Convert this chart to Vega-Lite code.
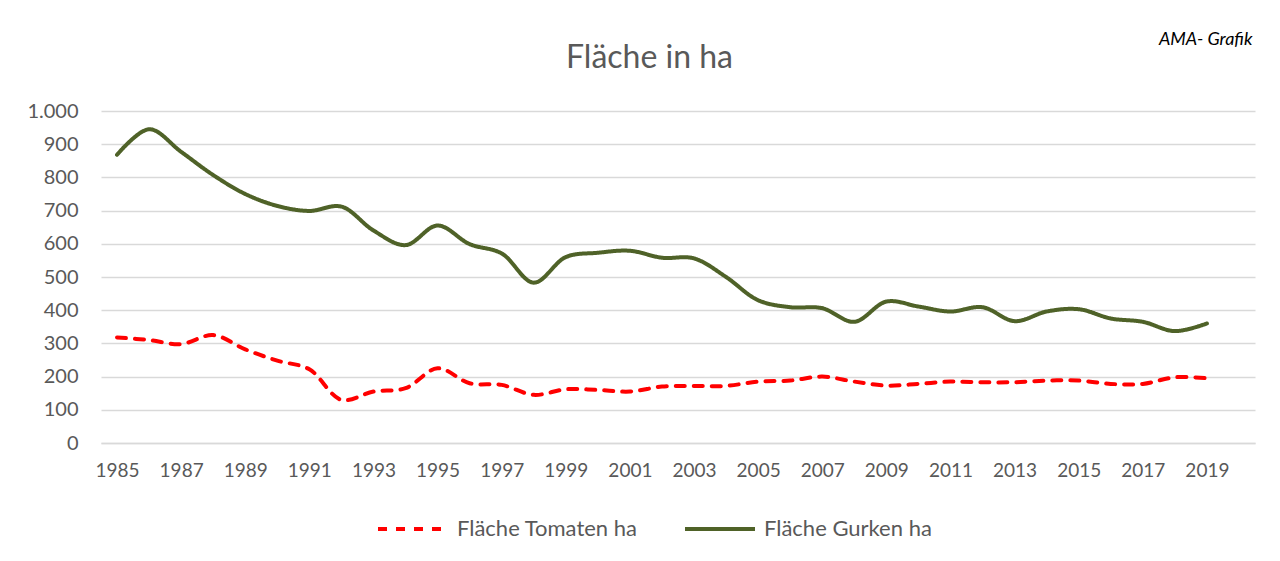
{
  "$schema": "https://vega.github.io/schema/vega-lite/v6.json",
  "width": 1154,
  "height": 332,
  "autosize": {"type": "none"},
  "padding": {"left": 101, "top": 111, "right": 25, "bottom": 118},
  "background": "white",
  "config": {
    "locale": {"number": {"decimal": ",", "thousands": ".", "grouping": [3], "currency": ["", " €"]}},
    "view": {"stroke": null},
    "font": "Lato"
  },
  "data": {
    "values": [
      {"Jahr": 1985, "Serie": "Fläche Tomaten  ha", "Wert": 318},
      {"Jahr": 1986, "Serie": "Fläche Tomaten  ha", "Wert": 310},
      {"Jahr": 1987, "Serie": "Fläche Tomaten  ha", "Wert": 298},
      {"Jahr": 1988, "Serie": "Fläche Tomaten  ha", "Wert": 325},
      {"Jahr": 1989, "Serie": "Fläche Tomaten  ha", "Wert": 282},
      {"Jahr": 1990, "Serie": "Fläche Tomaten  ha", "Wert": 248},
      {"Jahr": 1991, "Serie": "Fläche Tomaten  ha", "Wert": 222},
      {"Jahr": 1992, "Serie": "Fläche Tomaten  ha", "Wert": 130},
      {"Jahr": 1993, "Serie": "Fläche Tomaten  ha", "Wert": 155},
      {"Jahr": 1994, "Serie": "Fläche Tomaten  ha", "Wert": 165},
      {"Jahr": 1995, "Serie": "Fläche Tomaten  ha", "Wert": 225},
      {"Jahr": 1996, "Serie": "Fläche Tomaten  ha", "Wert": 180},
      {"Jahr": 1997, "Serie": "Fläche Tomaten  ha", "Wert": 175},
      {"Jahr": 1998, "Serie": "Fläche Tomaten  ha", "Wert": 145},
      {"Jahr": 1999, "Serie": "Fläche Tomaten  ha", "Wert": 162},
      {"Jahr": 2000, "Serie": "Fläche Tomaten  ha", "Wert": 160},
      {"Jahr": 2001, "Serie": "Fläche Tomaten  ha", "Wert": 155},
      {"Jahr": 2002, "Serie": "Fläche Tomaten  ha", "Wert": 170},
      {"Jahr": 2003, "Serie": "Fläche Tomaten  ha", "Wert": 172},
      {"Jahr": 2004, "Serie": "Fläche Tomaten  ha", "Wert": 172},
      {"Jahr": 2005, "Serie": "Fläche Tomaten  ha", "Wert": 185},
      {"Jahr": 2006, "Serie": "Fläche Tomaten  ha", "Wert": 188},
      {"Jahr": 2007, "Serie": "Fläche Tomaten  ha", "Wert": 200},
      {"Jahr": 2008, "Serie": "Fläche Tomaten  ha", "Wert": 185},
      {"Jahr": 2009, "Serie": "Fläche Tomaten  ha", "Wert": 173},
      {"Jahr": 2010, "Serie": "Fläche Tomaten  ha", "Wert": 178},
      {"Jahr": 2011, "Serie": "Fläche Tomaten  ha", "Wert": 185},
      {"Jahr": 2012, "Serie": "Fläche Tomaten  ha", "Wert": 183},
      {"Jahr": 2013, "Serie": "Fläche Tomaten  ha", "Wert": 183},
      {"Jahr": 2014, "Serie": "Fläche Tomaten  ha", "Wert": 188},
      {"Jahr": 2015, "Serie": "Fläche Tomaten  ha", "Wert": 188},
      {"Jahr": 2016, "Serie": "Fläche Tomaten  ha", "Wert": 178},
      {"Jahr": 2017, "Serie": "Fläche Tomaten  ha", "Wert": 178},
      {"Jahr": 2018, "Serie": "Fläche Tomaten  ha", "Wert": 198},
      {"Jahr": 2019, "Serie": "Fläche Tomaten  ha", "Wert": 195},
      {"Jahr": 1985, "Serie": "Fläche Gurken ha", "Wert": 868},
      {"Jahr": 1986, "Serie": "Fläche Gurken ha", "Wert": 945},
      {"Jahr": 1987, "Serie": "Fläche Gurken ha", "Wert": 877},
      {"Jahr": 1988, "Serie": "Fläche Gurken ha", "Wert": 807},
      {"Jahr": 1989, "Serie": "Fläche Gurken ha", "Wert": 750},
      {"Jahr": 1990, "Serie": "Fläche Gurken ha", "Wert": 714},
      {"Jahr": 1991, "Serie": "Fläche Gurken ha", "Wert": 699},
      {"Jahr": 1992, "Serie": "Fläche Gurken ha", "Wert": 712},
      {"Jahr": 1993, "Serie": "Fläche Gurken ha", "Wert": 640},
      {"Jahr": 1994, "Serie": "Fläche Gurken ha", "Wert": 596},
      {"Jahr": 1995, "Serie": "Fläche Gurken ha", "Wert": 655},
      {"Jahr": 1996, "Serie": "Fläche Gurken ha", "Wert": 599},
      {"Jahr": 1997, "Serie": "Fläche Gurken ha", "Wert": 571},
      {"Jahr": 1998, "Serie": "Fläche Gurken ha", "Wert": 483},
      {"Jahr": 1999, "Serie": "Fläche Gurken ha", "Wert": 560},
      {"Jahr": 2000, "Serie": "Fläche Gurken ha", "Wert": 573},
      {"Jahr": 2001, "Serie": "Fläche Gurken ha", "Wert": 579},
      {"Jahr": 2002, "Serie": "Fläche Gurken ha", "Wert": 558},
      {"Jahr": 2003, "Serie": "Fläche Gurken ha", "Wert": 556},
      {"Jahr": 2004, "Serie": "Fläche Gurken ha", "Wert": 500},
      {"Jahr": 2005, "Serie": "Fläche Gurken ha", "Wert": 430},
      {"Jahr": 2006, "Serie": "Fläche Gurken ha", "Wert": 409},
      {"Jahr": 2007, "Serie": "Fläche Gurken ha", "Wert": 406},
      {"Jahr": 2008, "Serie": "Fläche Gurken ha", "Wert": 365},
      {"Jahr": 2009, "Serie": "Fläche Gurken ha", "Wert": 426},
      {"Jahr": 2010, "Serie": "Fläche Gurken ha", "Wert": 411},
      {"Jahr": 2011, "Serie": "Fläche Gurken ha", "Wert": 396},
      {"Jahr": 2012, "Serie": "Fläche Gurken ha", "Wert": 409},
      {"Jahr": 2013, "Serie": "Fläche Gurken ha", "Wert": 367},
      {"Jahr": 2014, "Serie": "Fläche Gurken ha", "Wert": 396},
      {"Jahr": 2015, "Serie": "Fläche Gurken ha", "Wert": 403},
      {"Jahr": 2016, "Serie": "Fläche Gurken ha", "Wert": 375},
      {"Jahr": 2017, "Serie": "Fläche Gurken ha", "Wert": 365},
      {"Jahr": 2018, "Serie": "Fläche Gurken ha", "Wert": 337},
      {"Jahr": 2019, "Serie": "Fläche Gurken ha", "Wert": 360}
    ]
  },
  "mark": {"type": "line", "strokeWidth": 4, "interpolate": "catmull-rom", "strokeCap": "round", "strokeJoin": "round"},
  "encoding": {
    "x": {
      "field": "Jahr",
      "type": "quantitative",
      "scale": {"domain": [1984.5, 2020.5], "nice": false, "zero": false},
      "axis": {
        "values": [1985, 1987, 1989, 1991, 1993, 1995, 1997, 1999, 2001, 2003, 2005, 2007, 2009, 2011, 2013, 2015, 2017, 2019],
        "format": "d",
        "grid": false,
        "ticks": false,
        "domain": true,
        "domainColor": "#D9D9D9",
        "domainWidth": 1.5,
        "labelFont": "Lato",
        "labelFontSize": 19,
        "labelColor": "#595959",
        "labelPadding": 18,
        "labelFlush": false,
        "title": "AMA- Grafik",
        "titleFont": "Lato",
        "titleFontSize": 18,
        "titleFontStyle": "italic",
        "titleFontWeight": "normal",
        "titleColor": "#000000",
        "titleAlign": "right",
        "titleAnchor": null,
        "titleBaseline": "middle",
        "titleX": 1151,
        "titleY": -404
      }
    },
    "y": {
      "field": "Wert",
      "type": "quantitative",
      "scale": {"domain": [0, 1000], "nice": false},
      "axis": {
        "values": [0, 100, 200, 300, 400, 500, 600, 700, 800, 900, 1000],
        "format": ",d",
        "domain": false,
        "ticks": false,
        "grid": true,
        "gridColor": "#D9D9D9",
        "gridWidth": 1.5,
        "labelFont": "Lato",
        "labelFontSize": 20,
        "labelColor": "#595959",
        "labelPadding": 23,
        "title": "Fläche in ha",
        "titleFont": "Lato",
        "titleFontSize": 32,
        "titleFontWeight": "normal",
        "titleColor": "#595959",
        "titleAngle": 0,
        "titleAlign": "center",
        "titleAnchor": null,
        "titleBaseline": "alphabetic",
        "titleX": 548,
        "titleY": -44
      }
    },
    "color": {
      "field": "Serie",
      "type": "nominal",
      "sort": ["Fläche Tomaten  ha", "Fläche Gurken ha"],
      "scale": {"domain": ["Fläche Tomaten  ha", "Fläche Gurken ha"], "range": ["#FF0000", "#4F6228"]},
      "legend": {
        "title": null,
        "orient": "none",
        "legendX": 275,
        "legendY": 381,
        "direction": "horizontal",
        "symbolType": "stroke",
        "symbolSize": 4900,
        "symbolStrokeWidth": 4,
        "labelFont": "Lato",
        "labelFontSize": 22,
        "labelColor": "#595959",
        "labelOffset": 7,
        "labelLimit": 0,
        "columnPadding": 33
      }
    },
    "strokeDash": {
      "field": "Serie",
      "type": "nominal",
      "sort": ["Fläche Tomaten  ha", "Fläche Gurken ha"],
      "scale": {"domain": ["Fläche Tomaten  ha", "Fläche Gurken ha"], "range": [[9, 9], [1, 0]]},
      "legend": {
        "title": null,
        "orient": "none",
        "legendX": 275,
        "legendY": 381,
        "direction": "horizontal",
        "symbolType": "stroke",
        "symbolSize": 4900,
        "symbolStrokeWidth": 4,
        "labelFont": "Lato",
        "labelFontSize": 22,
        "labelColor": "#595959",
        "labelOffset": 7,
        "labelLimit": 0,
        "columnPadding": 33
      }
    }
  }
}
